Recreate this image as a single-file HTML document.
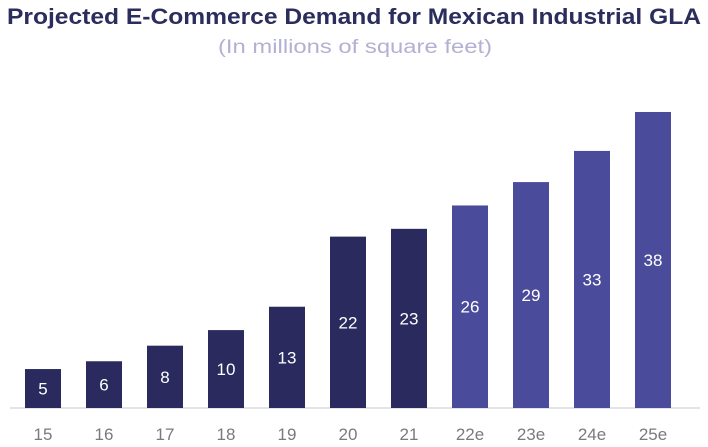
<!DOCTYPE html>
<html><head><meta charset="utf-8"><style>
body{margin:0;width:708px;height:442px;background:#fff;overflow:hidden;font-family:"Liberation Sans",sans-serif}
</style></head><body>
<svg width="708" height="442">
<text x="354" y="24" text-anchor="middle" font-size="22" font-weight="bold" fill="#2b2d5c" textLength="694" lengthAdjust="spacingAndGlyphs">Projected E-Commerce Demand for Mexican Industrial GLA</text>
<text x="355" y="53" text-anchor="middle" font-size="19" fill="#b3b1d3" textLength="274" lengthAdjust="spacingAndGlyphs">(In millions of square feet)</text>
<line x1="10" y1="408" x2="700" y2="408" stroke="#e3e3e8" stroke-width="2"/>
<g id="bars"></g>
</svg>
<script>
const categories=["15","16","17","18","19","20","21","22e","23e","24e","25e"];
const values=[5,6,8,10,13,22,23,26,29,33,38];
const estimated=[false,false,false,false,false,false,false,true,true,true,true];
const g=document.getElementById('bars');
const ns="http://www.w3.org/2000/svg";
const x=i=>25+i*61;
const y=v=>408-v*7.79;
const bw=36;
categories.forEach((c,i)=>{
  const v=values[i];
  const r=document.createElementNS(ns,'rect');
  r.setAttribute('x',x(i));r.setAttribute('y',y(v));r.setAttribute('width',bw);r.setAttribute('height',408-y(v));
  r.setAttribute('fill',estimated[i]?'#4b4b9b':'#2a2a5e');
  
  
  g.appendChild(r);
  const t=document.createElementNS(ns,'text');
  t.setAttribute('x',x(i)+bw/2);t.setAttribute('y',(y(v)+408)/2+6);
  t.setAttribute('text-anchor','middle');t.setAttribute('font-size','17');t.setAttribute('fill','#fff');
  t.textContent=v;
  
  
  g.appendChild(t);
  const l=document.createElementNS(ns,'text');
  l.setAttribute('x',x(i)+bw/2);l.setAttribute('y',440);
  l.setAttribute('text-anchor','middle');l.setAttribute('font-size','17');l.setAttribute('fill','#7a7a7a');
  l.textContent=c;
  
  
  g.appendChild(l);
});
</script>
</body></html>
